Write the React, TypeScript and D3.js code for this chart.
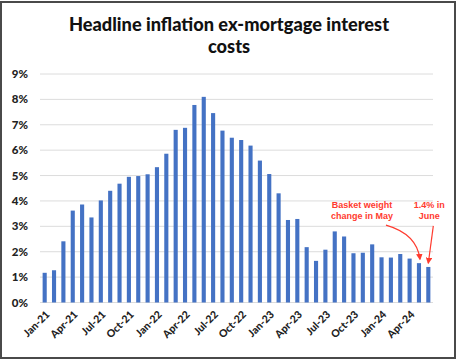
import * as d3 from "d3";

const months = [
  "Jan-21", "Feb-21", "Mar-21", "Apr-21", "May-21", "Jun-21", "Jul-21", "Aug-21", "Sep-21", "Oct-21", "Nov-21", "Dec-21",
  "Jan-22", "Feb-22", "Mar-22", "Apr-22", "May-22", "Jun-22", "Jul-22", "Aug-22", "Sep-22", "Oct-22", "Nov-22", "Dec-22",
  "Jan-23", "Feb-23", "Mar-23", "Apr-23", "May-23", "Jun-23", "Jul-23", "Aug-23", "Sep-23", "Oct-23", "Nov-23", "Dec-23",
  "Jan-24", "Feb-24", "Mar-24", "Apr-24", "May-24", "Jun-24",
];

// % y/y
const inflation = [
  1.17, 1.27, 2.41, 3.62, 3.86, 3.35, 4.02, 4.4, 4.68, 4.95, 4.98, 5.05,
  5.33, 5.86, 6.8, 6.88, 7.78, 8.1, 7.46, 6.77, 6.49, 6.4, 6.18, 5.59,
  5.06, 4.3, 3.25, 3.29, 2.18, 1.64, 2.08, 2.8, 2.6, 1.94, 1.96, 2.29,
  1.78, 1.77, 1.91, 1.73, 1.55, 1.4,
];

const yTicks = [0, 1, 2, 3, 4, 5, 6, 7, 8, 9];
const xTickLabels = months.filter((_, i) => i % 3 === 0);

const title = ["Headline inflation ex-mortgage interest", "costs"];
const noteMay = ["Basket weight", "change in May"];
const noteJune = ["1.4% in", "June"];

export default function App() {
  const width = 457;
  const height = 362;
  const margin = { top: 74, right: 24, bottom: 60, left: 40 };
  const innerW = width - margin.left - margin.right;
  const innerH = 302.5 - margin.top;

  const x = d3.scaleBand().domain(months).range([0, innerW]).paddingInner(0.56).paddingOuter(0.28);
  const y = d3.scaleLinear().domain([0, 9]).range([innerH, 0]);

  const font = "Lato, 'Open Sans', sans-serif";
  const noteFont = "'Liberation Sans', Arial, sans-serif";
  const red = "#ff3b2f";

  const cx = (m: string) => (x(m) ?? 0) + x.bandwidth() / 2;
  const mayX = cx("May-24");
  const mayY = y(inflation[40]);
  const junX = cx("Jun-24");
  const junY = y(inflation[41]);

  return (
    <svg width={width} height={height} style={{ position: "fixed", left: 0, top: 0, background: "#fff" }}>
      <rect x={1} y={2} width={width - 3} height={height - 6} fill="#fff" stroke="#4a4a4a" strokeWidth={2} />

      {title.map((t, i) => (
        <text key={i} x={229} y={31 + i * 22} textAnchor="middle" fontFamily={font} fontWeight={900} fontSize={18.2} fill="#111">
          {t}
        </text>
      ))}

      <g transform={`translate(${margin.left},${margin.top})`}>
        {yTicks.map((t) => (
          <g key={t}>
            <line x1={0} x2={innerW} y1={y(t)} y2={y(t)} stroke="#dcdcdc" strokeWidth={1} />
            <text x={-12} y={y(t)} dy="0.35em" textAnchor="end" fontFamily={font} fontWeight={900} fontSize={11.5} fill="#222">
              {t}%
            </text>
          </g>
        ))}

        {inflation.map((v, i) => (
          <rect key={months[i]} x={x(months[i])} y={y(v)} width={x.bandwidth()} height={innerH - y(v)} fill="#4472c4" />
        ))}

        {xTickLabels.map((m) => (
          <text
            key={m}
            transform={`translate(${cx(m) + 3},${innerH + 10}) rotate(-45)`}
            textAnchor="end"
            dy="0.35em"
            fontFamily={font}
            fontWeight={900}
            fontSize={10.5}
            fill="#222"
          >
            {m}
          </text>
        ))}

        {noteMay.map((t, i) => (
          <text key={t} x={mayX - 57} y={y(3.72) + i * 10.5} textAnchor="middle" fontFamily={noteFont} fontWeight={700} fontSize={9} fill={red}>
            {t}
          </text>
        ))}
        {noteJune.map((t, i) => (
          <text key={t} x={junX + 1} y={y(3.72) + i * 10.5} textAnchor="middle" fontFamily={noteFont} fontWeight={700} fontSize={9} fill={red}>
            {t}
          </text>
        ))}

        <defs>
          <marker id="arr" viewBox="0 0 10 10" refX={8} refY={5} markerWidth={5.5} markerHeight={5.5} orient="auto">
            <path d="M0,0 L10,5 L0,10 Z" fill={red} />
          </marker>
        </defs>
        <path
          d={`M${mayX - 33},${y(3.05)} Q${mayX - 2},${y(2.7)} ${mayX + 1},${mayY - 4}`}
          fill="none"
          stroke={red}
          strokeWidth={1.2}
          markerEnd="url(#arr)"
        />
        <path
          d={`M${junX + 5},${y(3.02)} L${junX},${junY - 4}`}
          fill="none"
          stroke={red}
          strokeWidth={1.2}
          markerEnd="url(#arr)"
        />
      </g>
    </svg>
  );
}
